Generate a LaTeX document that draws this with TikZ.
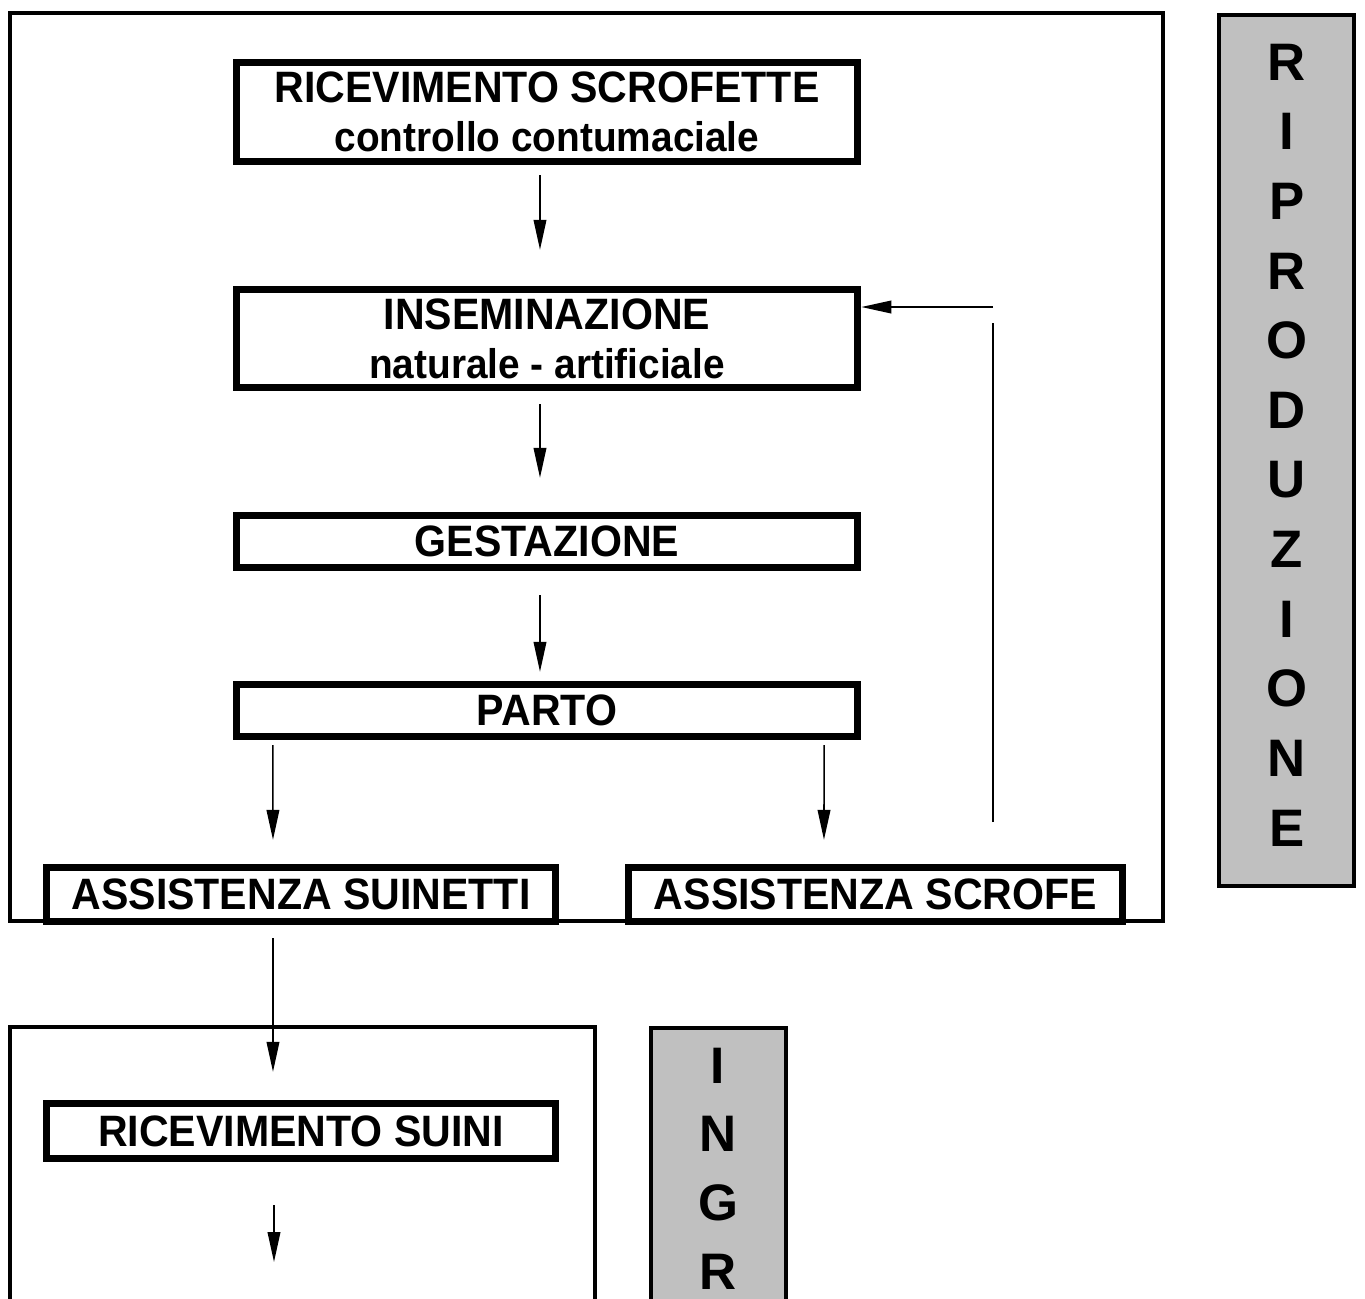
\documentclass[tikz,border=0pt]{standalone}
\usepackage{fontspec}
\setmainfont{Liberation Sans}[FakeStretch=0.935]
\newfontfamily\lettere{Liberation Sans}
\usetikzlibrary{arrows.meta}
\definecolor{grigio}{RGB}{192,192,192}
\tikzset{
  fase/.style={draw, fill=white, line width=2.1pt, align=center, inner sep=0pt,
    font=\fontsize{12.5}{13.9}\selectfont\bfseries},
  cornice/.style={draw, line width=1.1pt},
  settore/.style={draw, fill=grigio, line width=1.1pt},
  freccia/.style={line width=0.45pt, -{Triangle[length=8.5pt,width=3.6pt]}}
}
\newcommand{\sotto}[1]{{\fontsize{11.8}{13.9}\selectfont #1}}
\begin{document}
\begin{tikzpicture}[x=0.01cm,y=-0.01cm]
\useasboundingbox (0,0) rectangle (1365,1299);
\clip (0,0) rectangle (1365,1299);
\draw[cornice] (10,13) rectangle (1163,921);
\draw[settore] (1219,15) rectangle (1354,886);
\node[inner sep=0pt, align=center, font=\lettere\fontsize{15}{19.8}\selectfont\bfseries] (riprod) at (1287,445) {R\\I\\P\\R\\O\\D\\U\\Z\\I\\O\\N\\E};
\node[fase, minimum width=6.21cm, minimum height=0.99cm] (ricev) at (547,112) {RICEVIMENTO SCROFETTE\\\sotto{controllo contumaciale}};
\node[fase, minimum width=6.21cm, minimum height=0.98cm] (insem) at (547,338.5) {INSEMINAZIONE\\\sotto{naturale - artificiale}};
\node[fase, minimum width=6.21cm, minimum height=0.52cm] (gest) at (547,541.5) {GESTAZIONE};
\node[fase, minimum width=6.21cm, minimum height=0.52cm] (parto) at (547,710.5) {PARTO};
\node[fase, minimum width=5.09cm, minimum height=0.54cm] (suinetti) at (301,894.5) {ASSISTENZA SUINETTI};
\node[fase, minimum width=4.94cm, minimum height=0.54cm] (scrofe) at (875.5,894.5) {ASSISTENZA SCROFE};
\draw[freccia] ([xshift=-0.07cm,yshift=-0.1cm]ricev.south) -- ([xshift=-0.07cm,yshift=0.36cm]insem.north);
\draw[freccia] ([xshift=-0.07cm,yshift=-0.13cm]insem.south) -- ([xshift=-0.07cm,yshift=0.34cm]gest.north);
\draw[freccia] ([xshift=-0.07cm,yshift=-0.24cm]gest.south) -- ([xshift=-0.07cm,yshift=0.09cm]parto.north);
\draw[freccia] ([xshift=-2.74cm,yshift=-0.05cm]parto.south) -- ([xshift=-0.28cm,yshift=0.24cm]suinetti.north);
\draw[freccia] ([xshift=2.77cm,yshift=-0.05cm]parto.south) -- ([xshift=-0.515cm,yshift=0.24cm]scrofe.north);
\coordinate (ritorno) at (993,822);
\coordinate (ritornoalto) at (993,323);
\coordinate (ritornofreccia) at (993,307);
\draw[line width=0.45pt] (ritorno) -- (ritornoalto);
\draw[freccia] (ritornofreccia) -- (insem.east |- ritornofreccia);
\draw[cornice] (10,1340) -- (10,1027) -- (595,1027) -- (595,1340);
\draw[settore] (651,1340) -- (651,1028) -- (786,1028) -- (786,1340);
\node[inner sep=0pt, anchor=north, align=center, font=\lettere\fontsize{14.6}{19.6}\selectfont\bfseries] (ingr) at (718,1047) {I\\N\\G\\R};
\node[fase, minimum width=5.09cm, minimum height=0.55cm] (suini) at (301,1131) {RICEVIMENTO SUINI};
\draw[freccia] ([xshift=-0.28cm,yshift=-0.13cm]suinetti.south) -- ([xshift=-0.28cm,yshift=0.28cm]suini.north);
\coordinate (seguito) at (274,1262);
\draw[freccia] ([xshift=-0.27cm,yshift=-0.43cm]suini.south) -- (seguito);
\end{tikzpicture}
\end{document}
